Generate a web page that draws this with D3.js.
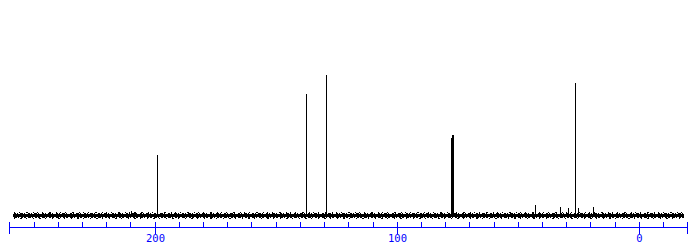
<!DOCTYPE html>
<html>
<head>
<meta charset="utf-8">
<script src="https://cdn.jsdelivr.net/npm/d3@7"></script>
<style>
  body { margin: 0; background: #fff; }
  svg { display: block; }
</style>
</head>
<body>
<div id="spectrum"></div>
<script>
// 13C spectrum, shifts in ppm, intensities relative to tallest peak (=100)
const peakShift = [209.8, 208.0, 199.0, 137.3, 129.1, 77.4, 77.0, 76.6, 42.8, 32.5, 29.4, 26.3, 25.2, 19.0];
const peakHeight = [3, 2, 42.9, 86.4, 100, 55.2, 57.1, 57.1, 7.1, 5.7, 5, 94.3, 5, 5.7];
const scanStart = 258.3, scanEnd = -18.2;
const majorTicks = [200, 100, 0];
const minorTicks = d3.range(250, -20, -10);
const axisEnds = [260, -20];

const width = 697, height = 246;
const axisY = 227.5;
const baseY = 215;

let svg = d3.select("#spectrum")
	.append("svg")
	.attr("width", width)
	.attr("height", height);

let x = d3.scaleLinear()
	.domain([260, -20])
	.range([9.3, 687.3]);

let y = d3.scaleLinear()
	.domain([0, 100])
	.range([baseY, 75]);

let px = v => Math.round(x(v)) + 0.5;

// baseline noise band
svg.append("rect")
	.attr("x", px(scanStart) - 0.5)
	.attr("width", px(scanEnd) - px(scanStart) + 1)
	.attr("y", baseY - 1.5)
	.attr("height", 3)
	.attr("fill", "black")
	.attr("shape-rendering", "crispEdges");

[[-2, "2,1,1,2,3,1,1,3"], [2, "3,1,1,2,2,1,2,2"], [-3, "1,4,1,6,2,5,1,3"], [3, "1,5,2,4,1,6"]].forEach(([dy, dash]) => {
	svg.append("line")
		.attr("x1", px(scanStart)).attr("x2", px(scanEnd))
		.attr("y1", baseY + dy).attr("y2", baseY + dy)
		.attr("stroke", "black")
		.attr("stroke-dasharray", dash)
		.attr("shape-rendering", "crispEdges");
});

// peaks
let peaks = peakShift.map((s, i) => ({shift: s, h: peakHeight[i]}));

svg.selectAll("line.peak")
	.data(peaks)
	.enter()
	.append("line")
	.attr("class", "peak")
	.attr("x1", d => px(d.shift))
	.attr("x2", d => px(d.shift))
	.attr("y1", baseY)
	.attr("y2", d => Math.round(y(d.h)))
	.attr("stroke", "black")
	.attr("stroke-width", 1)
	.attr("shape-rendering", "crispEdges");

// ppm axis
let axis = svg.append("g").attr("shape-rendering", "crispEdges");

axis.append("line")
	.attr("x1", px(axisEnds[0])).attr("x2", px(axisEnds[1]))
	.attr("y1", axisY).attr("y2", axisY)
	.attr("stroke", "#0000ff");

axis.selectAll("line.minor")
	.data(minorTicks.filter(t => !majorTicks.includes(t)))
	.enter()
	.append("line")
	.attr("class", "minor")
	.attr("x1", d => px(d)).attr("x2", d => px(d))
	.attr("y1", axisY).attr("y2", axisY - 5.5)
	.attr("stroke", "#0000ff");

axis.selectAll("line.major")
	.data(majorTicks.concat(axisEnds))
	.enter()
	.append("line")
	.attr("class", "major")
	.attr("x1", d => px(d)).attr("x2", d => px(d))
	.attr("y1", axisY - 5.5).attr("y2", axisY + 6)
	.attr("stroke", "#0000ff");

axis.selectAll("text")
	.data(majorTicks)
	.enter()
	.append("text")
	.attr("x", d => px(d))
	.attr("y", 242)
	.attr("text-anchor", "middle")
	.attr("fill", "#0000ff")
	.style("font-family", "'DejaVu Sans Mono', monospace")
	.style("font-size", "10.5px")
	.text(d => d);
</script>
</body>
</html>
